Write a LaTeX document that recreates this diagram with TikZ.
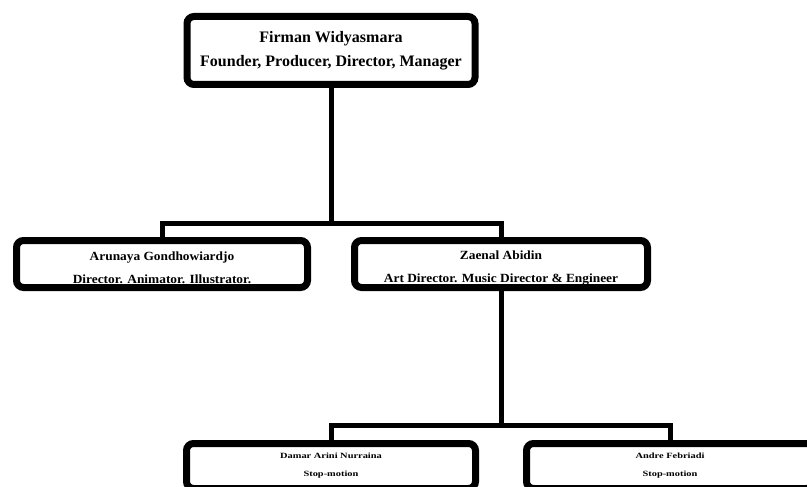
\documentclass[tikz,border=0pt]{standalone}
\usepackage{xcolor}
\usepackage{graphicx}
\usepackage{fontspec}
\setmainfont{Liberation Serif}
\usepackage{tikz}

% horizontally widened line of text
\newcommand{\widetext}[2]{\scalebox{#1}[1]{#2}}

\begin{document}
\begin{tikzpicture}[x=1pt,y=-1pt]
	\tikzstyle{every node}+=[font=\bfseries]
	\tikzstyle{person}=[draw=black, line width=7pt, rounded corners=7pt, fill=white, align=center, inner sep=0pt]
	\tikzstyle{link}=[draw=black, line width=5pt, line join=miter]
	\useasboundingbox (0,0) rectangle (807,487);
	% boxes
	\node [person, minimum width=288pt, minimum height=68pt, font=\bfseries\fontsize{16}{24}\selectfont] (firman) at (331,50.5) {Firman Widyasmara\\Founder, Producer, Director, Manager};
	\node [person, minimum width=291pt, minimum height=47pt, font=\bfseries\fontsize{12.5}{23}\selectfont] (arunaya) at (162,264) {\rule{0pt}{17pt}\widetext{1.07}{Arunaya Gondhowiardjo}\\\widetext{1.07}{Director. Animator. Illustrator.}};
	\node [person, minimum width=293pt, minimum height=47pt, font=\bfseries\fontsize{12.5}{23}\selectfont] (zaenal) at (501,264) {\rule{0pt}{17pt}\widetext{1.07}{Zaenal Abidin}\\\widetext{1.07}{Art Director. Music Director \& Engineer}};
	\node [person, minimum width=289pt, minimum height=45pt, font=\bfseries\fontsize{8}{18}\selectfont] (damar) at (331,466) {\widetext{1.3}{Damar Arini Nurraina}\\\widetext{1.3}{Stop-motion}};
	\node [person, minimum width=287pt, minimum height=45pt, font=\bfseries\fontsize{8}{18}\selectfont] (andre) at (670,466) {\widetext{1.3}{Andre Febriadi}\\\widetext{1.3}{Stop-motion}};
	% split points
	\coordinate (split1) at (331,223);
	\coordinate (split2) at (501,425);
	% connectors
	\draw [link] (firman.south) -- (split1);
	\draw [link] (split1) -| (arunaya.north);
	\draw [link] (split1) -| (zaenal.north);
	\draw [link] (zaenal.south) -- (split2);
	\draw [link] (split2) -| (damar.north);
	\draw [link] (split2) -| (andre.north);
\end{tikzpicture}
\end{document}
